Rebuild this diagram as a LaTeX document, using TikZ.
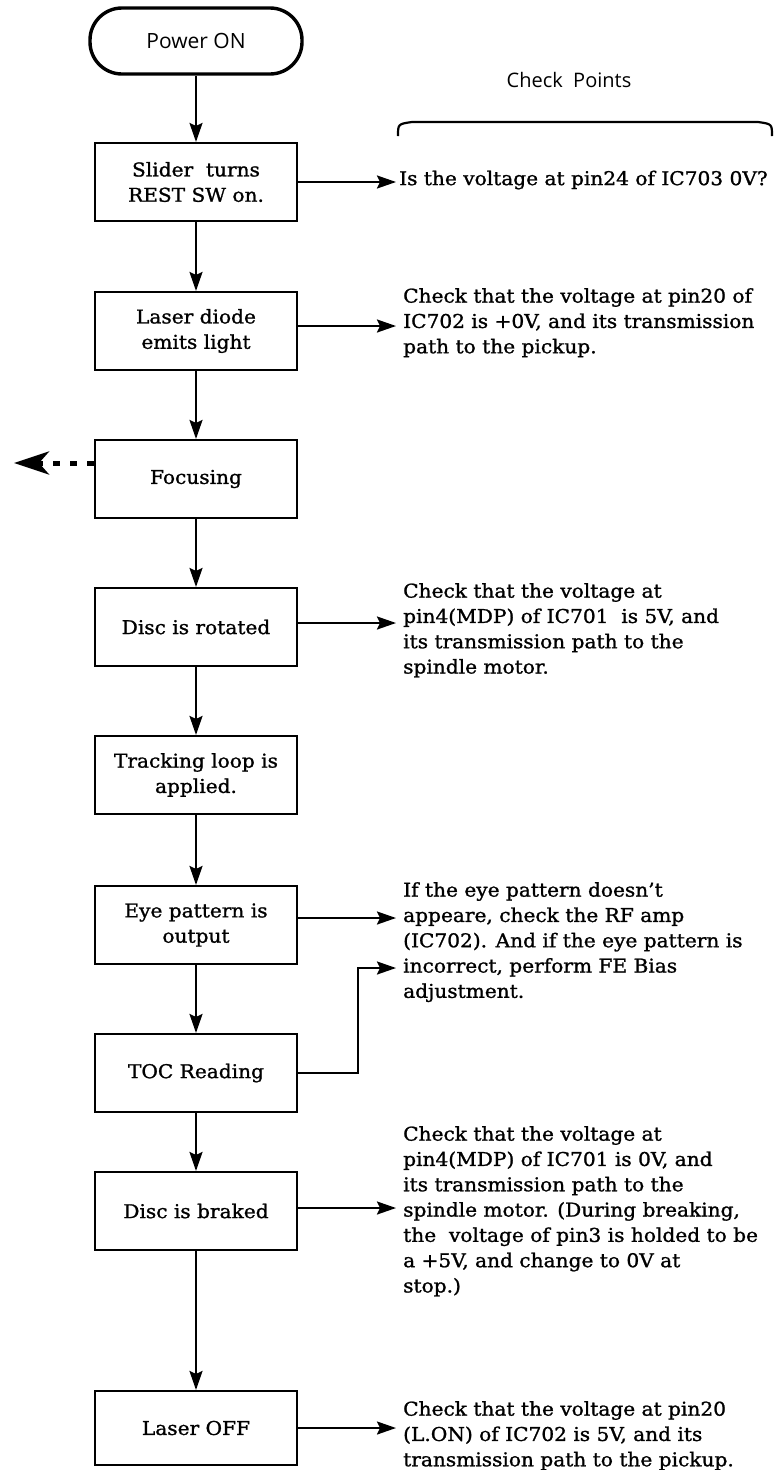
\documentclass[tikz,border=0pt]{standalone}
\usepackage{fontspec}
\setmainfont{DejaVu Serif}[FakeBold=1.2, FakeStretch=1.06]
\newfontfamily\headfont{Open Sans}
\usepackage{tikz}
\usetikzlibrary{positioning, arrows.meta, calc}

\begin{document}
\begin{tikzpicture}[x=1pt, y=-1pt, font=\fontsize{19}{25.3}\selectfont,
  stepbox/.style={draw, line width=2.1pt, minimum width=202pt,
                  minimum height=78pt, align=center, inner sep=2pt},
  termbox/.style={draw, line width=3.4pt, rounded corners=32pt,
                  minimum width=212pt, minimum height=66pt,
                  font=\headfont\fontsize{21}{25}\selectfont},
  note/.style={anchor=north west, align=left, inner xsep=7pt, inner ysep=0pt},
  arr/.style={line width=2.1pt, -{Stealth[length=19pt, width=13pt, inset=3pt]}},
  dotarr/.style={line width=5pt, dash pattern=on 7pt off 10pt,
                 -{Stealth[length=35pt, width=23pt, inset=10pt]}}]
  \useasboundingbox (0,0) rectangle (777,1470);
  % Flow
  \node[termbox] (power) at (196,41) {Power ON};
  \node[stepbox] (slider) at (196,182) {Slider\ \ turns\\REST SW on.};
  \node[stepbox] (laser) at (196,331) {Laser diode\\emits light};
  \node[stepbox] (focus) at (196,479) {Focusing};
  \node[stepbox] (rotate) at (196,627) {Disc is rotated};
  \node[stepbox] (track) at (196,775) {Tracking loop is\\applied.};
  \node[stepbox] (eye) at (196,925) {Eye pattern is\\output};
  \node[stepbox] (toc) at (196,1073) {TOC Reading};
  \node[stepbox] (brake) at (196,1211) {Disc is braked};
  \node[stepbox, minimum height=74pt] (off) at (196,1428) {Laser OFF};
  \draw[arr] (power) -- (slider);
  \draw[arr] (slider) -- (laser);
  \draw[arr] (laser) -- (focus);
  \draw[arr] (focus) -- (rotate);
  \draw[arr] (rotate) -- (track);
  \draw[arr] (track) -- (eye);
  \draw[arr] (eye) -- (toc);
  \draw[arr] (toc) -- (brake);
  \draw[arr] (brake) -- (off);
  % Check points
  \node[font=\headfont\fontsize{20}{24}\selectfont] (cptitle) at (569,80) {Check\ \ Points};
  \draw[line width=2.2pt] (398,136) .. controls (398,124) .. (412,122)
    -- (758,122) .. controls (772,124) .. (772,136);
  \node[note, anchor=west, inner xsep=3pt] (chk1) at (396,180) {Is the voltage at pin24 of IC703 0V?};
  \node[note] (chk2) at (396,288) {Check that the voltage at pin20 of\\
    IC702 is +0V, and its transmission\\path to the pickup.};
  \node[note] (chk4) at (396,583) {Check that the voltage at\\
    pin4(MDP) of IC701\ \ is 5V, and\\its transmission path to the\\spindle motor.};
  \node[note] (chk6) at (396,882) {If the eye pattern doesn’t\\
    appeare, check the RF amp\\(IC702). And if the eye pattern is\\
    incorrect, perform FE Bias\\adjustment.};
  \node[note] (chk8) at (396,1126) {Check that the voltage at\\
    pin4(MDP) of IC701 is 0V, and\\its transmission path to the\\
    spindle motor. (During breaking,\\the\ \ voltage of pin3 is holded to be\\
    a +5V, and change to 0V at\\stop.)};
  \node[note] (chk9) at (396,1401) {Check that the voltage at pin20\\
    (L.ON) of IC702 is 5V, and its\\transmission path to the pickup.};
  \draw[arr] (slider.east) -- (slider.east -| chk1.west);
  \draw[arr] ([yshift=5pt]laser.east) -- ([yshift=5pt]laser.east -| chk2.west);
  \draw[arr] ([yshift=4pt]rotate.east) -- ([yshift=4pt]rotate.east -| chk4.west);
  \draw[arr] ([yshift=7pt]eye.east) -- ([yshift=7pt]eye.east -| chk6.west);
  \coordinate (tocbend) at (358,968);
  \draw[arr] (toc.east) -| (tocbend) -- (tocbend -| chk6.west);
  \draw[arr] ([yshift=3pt]brake.east) -- ([yshift=3pt]brake.east -| chk8.west);
  \draw[arr] (off.east) -- (off.east -| chk9.west);
  % Lost focus
  \coordinate (lost) at (14,463);
  \draw[dotarr] (focus.west |- lost) -- (lost);
\end{tikzpicture}
\end{document}
